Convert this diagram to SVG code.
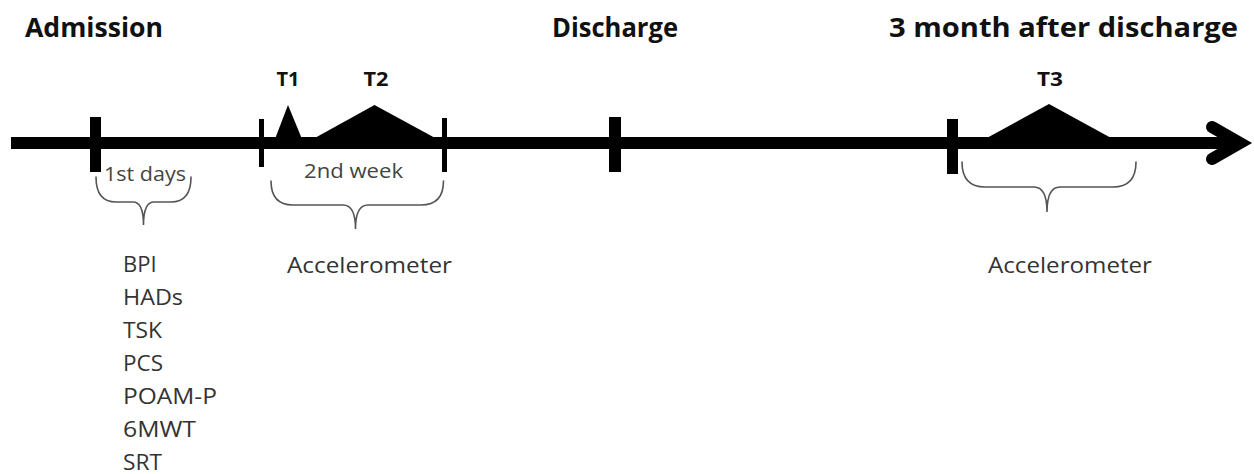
<svg xmlns="http://www.w3.org/2000/svg" width="1254" height="474" viewBox="0 0 1254 474">
  <style>
    .head { font-family: "Open Sans", "Liberation Sans", sans-serif; font-weight: bold; font-size: 26px; fill: #111; }
    .tlab { font-family: "Open Sans", "Liberation Sans", sans-serif; font-weight: bold; font-size: 20px; fill: #111; }
    .body { font-family: "Open Sans", "Liberation Sans", sans-serif; font-size: 22px; fill: #333; }
    .small { font-family: "Open Sans", "Liberation Sans", sans-serif; font-size: 20px; fill: #444; }
    .brace { fill: none; stroke: #555; stroke-width: 1.6; stroke-linecap: round; }
    .tick { fill: #000; }
    .peak { fill: #000; }
  </style>

  <rect width="1254" height="474" fill="#fff"/>

  <!-- phase headings -->
  <g id="headings">
    <text class="head" x="25" y="37" textLength="138" lengthAdjust="spacingAndGlyphs">Admission</text>
    <text class="head" x="552" y="37" textLength="126" lengthAdjust="spacingAndGlyphs">Discharge</text>
    <text class="head" x="889" y="37" textLength="349" lengthAdjust="spacingAndGlyphs">3 month after discharge</text>
  </g>

  <!-- timeline axis with arrow -->
  <g id="axis">
    <line x1="11" y1="143" x2="1240" y2="143" stroke="#000" stroke-width="12"/>
    <polyline points="1212,127 1240,143 1212,159" fill="none" stroke="#000" stroke-width="12" stroke-linecap="round" stroke-linejoin="miter"/>
  </g>

  <!-- tick marks -->
  <g id="ticks">
    <rect class="tick" x="90" y="117" width="11" height="55"/>
    <rect class="tick" x="259" y="119" width="5" height="48"/>
    <rect class="tick" x="442" y="118" width="5" height="54"/>
    <rect class="tick" x="609" y="117" width="12" height="55"/>
    <rect class="tick" x="947" y="119" width="11" height="55"/>
  </g>

  <!-- measurement points -->
  <g id="T1">
    <polygon class="peak" points="275,139 288,105 302,139"/>
    <text class="tlab" x="288" y="86" text-anchor="middle" textLength="23" lengthAdjust="spacingAndGlyphs">T1</text>
  </g>
  <g id="T2">
    <polygon class="peak" points="313,139 374.5,105 437,139"/>
    <text class="tlab" x="376" y="86" text-anchor="middle" textLength="25" lengthAdjust="spacingAndGlyphs">T2</text>
  </g>
  <g id="T3">
    <polygon class="peak" points="985,139 1049,104 1113,139"/>
    <text class="tlab" x="1050" y="86" text-anchor="middle" textLength="26" lengthAdjust="spacingAndGlyphs">T3</text>
  </g>

  <!-- period labels -->
  <g id="first-days">
    <text class="small" x="104" y="181" textLength="82" lengthAdjust="spacingAndGlyphs">1st days</text>
    <path class="brace" d="M96,177 Q96,202 116,202 L133,202 Q143.5,202 143.5,225 Q143.5,202 154,202 L171,202 Q191,202 191,177"/>
  </g>
  <g id="second-week">
    <text class="small" x="304" y="178" textLength="99" lengthAdjust="spacingAndGlyphs">2nd week</text>
    <path class="brace" d="M271,181 Q271,205 293,205 L343,205 Q355.5,205 355.5,229 Q355.5,205 368,205 L421,205 Q443.5,205 443.5,181"/>
  </g>
  <g id="followup">
    <path class="brace" d="M962,162 Q962,187 985,187 L1034,187 Q1047,187 1047,212 Q1047,187 1060,187 L1113,187 Q1136,187 1136,162"/>
  </g>

  <!-- instruments -->
  <g id="questionnaires">
    <text class="body" x="123" y="272">BPI</text>
    <text class="body" x="123" y="305" textLength="60" lengthAdjust="spacingAndGlyphs">HADs</text>
    <text class="body" x="123" y="338" textLength="39" lengthAdjust="spacingAndGlyphs">TSK</text>
    <text class="body" x="123" y="371" textLength="40" lengthAdjust="spacingAndGlyphs">PCS</text>
    <text class="body" x="123" y="404" textLength="94" lengthAdjust="spacingAndGlyphs">POAM-P</text>
    <text class="body" x="123" y="437" textLength="73" lengthAdjust="spacingAndGlyphs">6MWT</text>
    <text class="body" x="123" y="470" textLength="39" lengthAdjust="spacingAndGlyphs">SRT</text>
  </g>
  <g id="accelerometer-1">
    <text class="body" x="287" y="273" textLength="165" lengthAdjust="spacingAndGlyphs">Accelerometer</text>
  </g>
  <g id="accelerometer-2">
    <text class="body" x="988" y="273" textLength="164" lengthAdjust="spacingAndGlyphs">Accelerometer</text>
  </g>
</svg>
